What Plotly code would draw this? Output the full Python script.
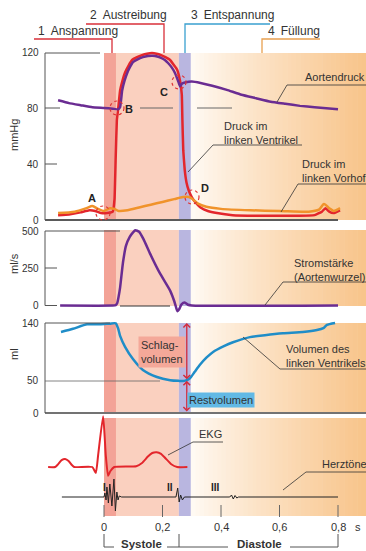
import plotly.graph_objects as go

# ------------------------------------------------------------------ data
# time in s, relative to the start of systole
ao_t = [-0.157, -0.12, -0.08, -0.04, 0.0, 0.03, 0.048, 0.055, 0.062, 0.07, 0.079, 0.089, 0.099,
        0.115, 0.133, 0.15, 0.167, 0.182, 0.195, 0.208, 0.219, 0.232, 0.243, 0.254, 0.26, 0.267,
        0.28, 0.3, 0.33, 0.37, 0.42, 0.47, 0.52, 0.57, 0.62, 0.67, 0.72, 0.8]
ao_v = [86, 84, 82.5, 81, 80.5, 80, 79.5, 81, 93, 100, 105.5, 110, 113.5,
        115.5, 117, 117.8, 118, 117.5, 116.5, 115, 112.8, 109.5, 105.5, 99.5, 96, 98,
        99, 99.5, 98.5, 96.5, 93.5, 90, 87.5, 85, 83.5, 82, 81, 79.5]

lv_t = [-0.157, -0.12, -0.08, -0.05, -0.03, -0.01, 0.01, 0.03, 0.036, 0.04, 0.044, 0.048, 0.055,
        0.063, 0.072, 0.084, 0.096, 0.113, 0.13, 0.147, 0.164, 0.18, 0.195, 0.21, 0.226, 0.24,
        0.25, 0.26, 0.266, 0.268, 0.271, 0.276, 0.282, 0.29, 0.3, 0.315, 0.33, 0.355, 0.386,
        0.44, 0.55, 0.65, 0.72, 0.745, 0.757, 0.77, 0.785, 0.807]
lv_v = [3.5, 4, 5.5, 7, 6.5, 5, 5, 6, 15, 45, 72, 79, 93,
        100, 106, 111, 115, 117, 118.5, 119.5, 120, 119.5, 118.5, 117, 115, 111,
        108, 100, 90, 72, 50, 36, 27, 21, 16.5, 12, 9, 6.5, 5,
        3.5, 3, 3, 3.5, 6, 8.5, 6, 5, 7]

la_t = [-0.157, -0.1, -0.06, -0.04, -0.02, 0.0, 0.02, 0.035, 0.05, 0.08, 0.12, 0.16, 0.2, 0.24,
        0.27, 0.29, 0.3, 0.32, 0.35, 0.4, 0.5, 0.6, 0.7, 0.735, 0.752, 0.77, 0.785, 0.807]
la_v = [5, 6, 8.5, 10, 8, 6.5, 8.5, 8, 6.5, 7, 9, 11, 13, 15,
        16.5, 16.5, 15.5, 12, 9.5, 8, 7, 6.5, 6, 7.5, 11.5, 8.5, 6.5, 8.5]

flow_t = [-0.15, 0.03, 0.04, 0.045, 0.05, 0.055, 0.065, 0.075, 0.088, 0.1, 0.107, 0.12, 0.135,
          0.157, 0.19, 0.226, 0.24, 0.246, 0.251, 0.257, 0.265, 0.276, 0.287, 0.3, 0.8]
flow_v = [0, 0, 3, 15, 60, 120, 290, 400, 460, 492, 505, 495, 445,
          350, 220, 100, 30, -10, -38, -25, 8, 20, 5, 0, 0]

vol_t = [-0.147, -0.106, -0.058, -0.014, 0.02, 0.04, 0.048, 0.055, 0.072, 0.099, 0.133, 0.181,
         0.226, 0.255, 0.275, 0.294, 0.31, 0.328, 0.35, 0.373, 0.41, 0.441, 0.499, 0.55, 0.612,
         0.68, 0.728, 0.75, 0.762, 0.79]
vol_v = [126, 131, 138, 138, 139, 139.5, 132, 120, 103, 84, 67, 56,
         51, 50, 50, 54, 64, 75, 86, 95, 104, 110, 118, 121, 124,
         126, 129, 132, 137, 140]

ekg_t = [-0.191, -0.167, -0.158, -0.145, -0.133, -0.121, -0.11, -0.102, -0.04, -0.028, -0.02,
         -0.003, 0.006, 0.014, 0.022, 0.035, 0.11, 0.13, 0.15, 0.165, 0.18, 0.195, 0.21, 0.23,
         0.25, 0.285]
ekg_v = [0, 0, 0.06, 0.17, 0.2, 0.15, 0.05, 0, 0, -0.15, 0.3,
         1.27, 0.3, -0.22, -0.1, 0, 0.02, 0.1, 0.26, 0.35, 0.37, 0.33, 0.22, 0.07,
         0, 0]

hs_t = [-0.144, 0.0, 0.003, 0.007, 0.01, 0.015, 0.02, 0.027, 0.034, 0.039, 0.044, 0.048, 0.052,
        0.06, 0.246, 0.252, 0.257, 0.262, 0.268, 0.275, 0.43, 0.436, 0.442, 0.448, 0.454, 0.46,
        0.8]
hs_v = [0, 0, 0.4, -0.3, 1.0, -0.6, 1.3, -0.9, 1.8, -1.4, 0.5, -0.3, 0.1,
        0, 0, 0.9, -0.5, 0.2, -0.3, 0, 0, 0.2, -0.2, 0.15, -0.1, 0,
        0]

phase_t = [0.0, 0.041, 0.256, 0.297]   # Anspannung, Austreibung, Entspannung, Füllung
mmhg_ticks = [0, 40, 80, 120]
flow_ticks = [0, 250, 500]
vol_ticks = [0, 50, 140]
vol_rest, vol_edv = 50, 140
time_ticks = [0, 0.2, 0.4, 0.6, 0.8]
time_labels = ["0", "0,2", "0,4", "0,6", "0,8"]

# ------------------------------------------------------------------ layout helpers
W, H = 366, 551
T0_PX, PXS = 104, 292.5
FONT = "Liberation Sans, Arial, sans-serif"
TXT = "#333333"
RED, PURPLE, ORANGE, BLUE = "#E3262C", "#6A2C92", "#F0932B", "#1F8DC8"
AX = "#555555"


def X(p):
    return p / W


def Y(p):
    return 1 - p / H


def yax(p0, s, top, bot):
    return dict(domain=[Y(bot), Y(top)], range=[(p0 - bot) / s, (p0 - top) / s],
                visible=False, fixedrange=True, anchor="x")


fig = go.Figure()


def line(xs, ys, yaxis, color, width, smooth=0.6, shape="spline"):
    fig.add_trace(go.Scatter(x=xs, y=ys, xaxis="x", yaxis=yaxis, mode="lines",
                             line=dict(color=color, width=width, shape=shape,
                                       smoothing=smooth if shape == "spline" else None),
                             hoverinfo="skip", showlegend=False))


line(lv_t, lv_v, "y", RED, 2.5, 0.3)
line(ao_t, ao_v, "y", PURPLE, 2.5, 0.35)
line(la_t, la_v, "y", ORANGE, 2.5, 0.7)
line(flow_t, flow_v, "y2", PURPLE, 2.5, 0.5)
line(vol_t, vol_v, "y3", BLUE, 2.5, 0.6)
line(ekg_t, ekg_v, "y4", RED, 2, 0.5)
line(hs_t, hs_v, "y5", "#222222", 1, shape="linear")

shapes = []
annos = []


def path(d, color=AX, width=1, dash=None, layer="above"):
    shapes.append(dict(type="path", path=d, xref="paper", yref="paper",
                       line=dict(color=color, width=width, dash=dash), layer=layer))


def P(points):
    s = ""
    for i, (px, py) in enumerate(points):
        s += ("M" if i == 0 else "L") + f"{X(px)},{Y(py)} "
    return s


def text(px, py, t, size=11, anchor="left", bold=False, color=TXT, yanchor="middle", **kw):
    if bold:
        t = f"<b>{t}</b>"
    annos.append(dict(x=X(px), y=Y(py), xref="paper", yref="paper", text=t, showarrow=False,
                      xanchor=anchor, yanchor=yanchor, align="left",
                      font=dict(family=FONT, size=size, color=color), **kw))


# ---- phase background bands (per panel, with white gaps)
panels_px = [(53, 220), (230, 306), (323, 412), (418, 516)]
band_cols = ["#F3A397", "#FAD0BF", "#B9B6E0"]
xr_right = (W - T0_PX) / PXS
N = 40
c0, c1 = (255, 251, 246), (248, 196, 138)
for top, bot in panels_px:
    for i in range(3):
        shapes.append(dict(type="rect", xref="x", yref="paper", x0=phase_t[i], x1=phase_t[i + 1],
                           y0=Y(bot), y1=Y(top), fillcolor=band_cols[i], line=dict(width=0),
                           layer="below"))
    for k in range(N):
        a = phase_t[3] + (xr_right - phase_t[3]) * k / N
        b = phase_t[3] + (xr_right - phase_t[3]) * (k + 1) / N + 0.002
        f = ((k + 0.5) / N) ** 0.85
        col = "rgb(%d,%d,%d)" % tuple(round(c0[j] + (c1[j] - c0[j]) * f) for j in range(3))
        shapes.append(dict(type="rect", xref="x", yref="paper", x0=a, x1=b,
                           y0=Y(bot), y1=Y(top), fillcolor=col, line=dict(width=0),
                           layer="below"))

# ---- panel axes
# panel 1 (mmHg)
path(P([(100, 53), (45, 53), (45, 220)]))
path(P([(45, 220), (338, 220)]), color="#5a5a5a", width=2)
path(P([(45, 108), (60, 108)]))
path(P([(140, 108), (173, 108)]), color="#666", width=1)
path(P([(197, 108), (232, 108)]), color="#666", width=1)
path(P([(45, 164), (57, 164)]))
# panel 2 (ml/s)
path(P([(120, 231), (45, 231), (45, 305.5)]))
path(P([(45, 305.5), (57, 305.5)]))
path(P([(120, 306), (170, 306)]), color="#333", width=1)
path(P([(45, 268), (57, 268)]))
# panel 3 (ml)
path(P([(110, 323), (45, 323), (45, 413)]))
path(P([(45, 413), (366, 413)]), color="#444", width=1.5)
path(P([(45, 381), (160, 381)]), color="#666", width=0.8)

# tick labels
TF = dict(family=FONT, size=10, color=TXT)
for v in mmhg_ticks:
    annos.append(dict(x=X(41), y=v, xref="paper", yref="y", text=str(v), showarrow=False,
                      xanchor="right", yanchor="middle", font=TF))
for v in flow_ticks:
    annos.append(dict(x=X(41), y=v, xref="paper", yref="y2", text=str(v), showarrow=False,
                      xanchor="right", yanchor="middle", font=TF))
for v in vol_ticks:
    annos.append(dict(x=X(41), y=v, xref="paper", yref="y3", text=str(v), showarrow=False,
                      xanchor="right", yanchor="middle", font=TF))

for lab, py in [("mmHg", 135), ("ml/s", 264), ("ml", 354)]:
    annos.append(dict(x=X(14), y=Y(py), xref="paper", yref="paper", text=lab, showarrow=False,
                      textangle=-90, xanchor="center", yanchor="middle",
                      font=dict(family=FONT, size=11, color=TXT)))

# time axis
for tv, tl in zip(time_ticks, time_labels):
    shapes.append(dict(type="line", xref="x", yref="paper", x0=tv, x1=tv, y0=Y(517), y1=Y(505),
                       line=dict(color="#666", width=1)))
    annos.append(dict(x=tv, y=Y(527), xref="x", yref="paper", text=tl, showarrow=False,
                      xanchor="center", yanchor="middle", font=dict(family=FONT, size=11, color=TXT)))
text(353, 527, "s", 11)

# Systole / Diastole brackets
path(P([(104, 534), (104, 547), (114, 547)]))
path(P([(167, 547), (179, 547), (179, 534)]))
path(P([(179, 547), (228, 547)]))
path(P([(290, 547), (338, 547), (338, 534)]))
text(141, 544, "Systole", 11.5, anchor="center", bold=True)
text(259, 544, "Diastole", 11.5, anchor="center", bold=True)

# ---- phase labels at top
path(P([(34, 39), (112, 39), (112, 53)]), color="#D9303A", width=1.3)
path(P([(86, 24), (164, 24), (164, 53)]), color="#D9303A", width=1.3)
path(P([(270, 24), (185, 24), (185, 53)]), color="#3AA0D0", width=1.3)
path(P([(320, 39), (262, 39), (262, 53)]), color="#E8A050", width=1.3)
text(36, 31, "1\u2002Anspannung", 12)
text(88, 15, "2\u2002Austreibung", 12)
text(189, 15, "3\u2002Entspannung", 12)
text(266, 31, "4\u2002Füllung", 12)

# ---- marker circles A-D
for cx, cy, lab, lx, ly in [(103, 213, "A", 92, 198), (117, 108, "B", 129, 109),
                            (179, 82, "C", 164, 92), (192, 197, "D", 205, 188)]:
    shapes.append(dict(type="circle", xref="paper", yref="paper", x0=X(cx - 7), x1=X(cx + 7),
                       y0=Y(cy + 7), y1=Y(cy - 7), line=dict(color="#E03535", width=1.2, dash="dot")))
    text(lx, ly, lab, 11, anchor="center", bold=True, color="#222")

# ---- curve labels with leader lines
LC = "#333"
path(P([(277, 102), (287, 85), (366, 85)]), color=LC, width=0.8)
text(303, 77, "Aortendruck", 11)
path(P([(188, 172), (213, 145), (302, 145)]), color=LC, width=0.8)
text(222, 133, "Druck im<br>linken Ventrikel", 11)
path(P([(281, 212), (298, 184), (366, 184)]), color=LC, width=0.8)
text(300, 171, "Druck im<br>linken Vorhof", 11)
path(P([(265, 305), (283, 282), (366, 282)]), color=LC, width=0.8)
text(292, 270, "Stromstärke<br>(Aortenwurzel)", 11)
path(P([(243, 337), (280, 369), (366, 369)]), color=LC, width=0.8)
text(284, 356, "Volumen des<br>linken Ventrikels", 11)
path(P([(168, 455), (193, 442), (223, 442)]), color=LC, width=0.8)
text(197, 434, "EKG", 11)
path(P([(283, 490), (306, 472), (366, 472)]), color=LC, width=0.8)
text(320, 464, "Herztöne", 11)

# heart sound numerals
text(104, 487, "I", 10, anchor="center", bold=True, color="#222")
text(170, 487, "II", 10, anchor="center", bold=True, color="#222")
text(215, 487, "III", 10, anchor="center", bold=True, color="#222")

# ---- stroke volume / residual volume arrows and boxes
ARROW_T = 0.283
for y_a, y_b in [(vol_edv, vol_rest), (vol_rest, 0)]:
    annos.append(dict(x=ARROW_T, y=y_a, ax=ARROW_T, ay=y_b, xref="x", yref="y3", axref="x",
                      ayref="y3", text="", showarrow=True, arrowhead=4, arrowside="end+start",
                      arrowsize=1, arrowwidth=1.3, arrowcolor="#D42A3A", standoff=0, startstandoff=0))
text(162, 352, "Schlag-<br>volumen", 11, anchor="center", bgcolor="#F4A899", borderpad=2)
text(221, 400, "Restvolumen", 11, anchor="center", bgcolor="#62B9E5", borderpad=1)

# ------------------------------------------------------------------ layout
fig.update_layout(
    width=W, height=H, margin=dict(l=0, r=0, t=0, b=0),
    paper_bgcolor="white", plot_bgcolor="rgba(0,0,0,0)",
    xaxis=dict(range=[-T0_PX / PXS, xr_right], domain=[0, 1], visible=False, fixedrange=True,
               anchor="y"),
    yaxis=yax(220, 167 / 120, 45, 228),
    yaxis2=yax(305.5, 74.5 / 500, 222, 314),
    yaxis3=yax(413, 90 / 140, 315, 418),
    yaxis4=yax(467, 40, 410, 482),
    yaxis5=yax(497, 10, 476, 515),
    shapes=shapes, annotations=annos, showlegend=False,
)
fig.write_html("out.html", config={"displayModeBar": False})
